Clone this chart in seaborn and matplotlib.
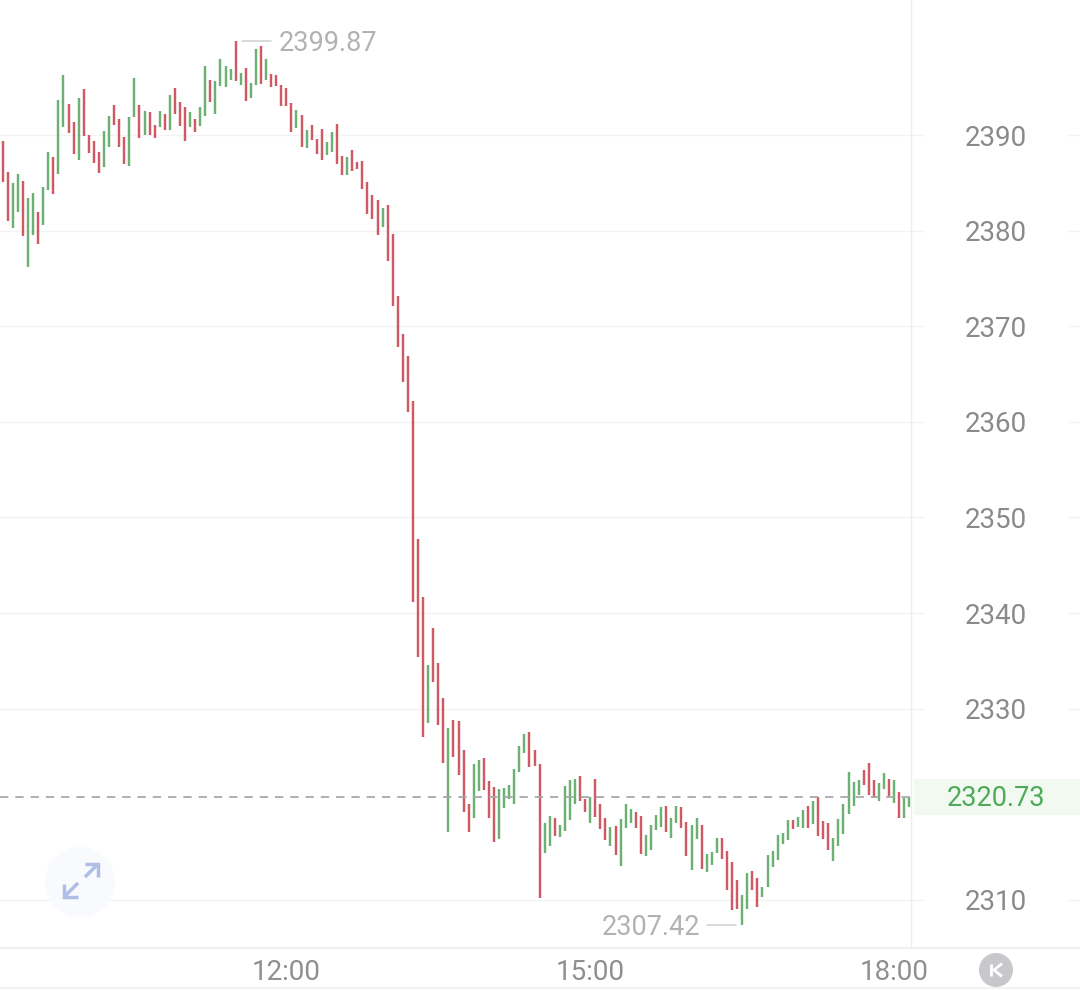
import pandas as pd
import seaborn as sns
import matplotlib.pyplot as plt
from matplotlib.patches import Circle, Rectangle

# BAR DATA, 3 MINUTE BARS
highs = [2389.41, 2386.17, 2384.95, 2385.92, 2385.19, 2383.38, 2383.90, 2381.98, 2384.56, 2388.19,
         2387.73, 2393.70, 2396.24, 2393.21, 2391.32, 2393.83, 2394.78, 2389.97, 2389.34, 2388.19,
         2390.45, 2391.95, 2393.14, 2391.67, 2389.76, 2391.85, 2395.93, 2393.14, 2392.54, 2392.41,
         2391.08, 2392.48, 2392.20, 2394.18, 2394.95, 2393.42, 2392.96, 2392.41, 2391.71, 2392.93,
         2397.18, 2395.75, 2395.68, 2397.91, 2397.22, 2396.87, 2399.87, 2396.48, 2397.04, 2395.47,
         2398.96, 2399.27, 2397.91, 2396.34, 2396.27, 2395.23, 2394.88, 2393.31, 2392.65, 2392.06,
         2390.52, 2391.05, 2389.55, 2390.59, 2389.27, 2390.35, 2391.19, 2387.84, 2387.73, 2388.40,
         2387.14, 2387.25, 2385.05, 2383.69, 2383.17, 2382.33, 2382.71, 2379.68, 2373.19, 2369.22,
         2366.89, 2362.15, 2347.78, 2341.69, 2334.58, 2338.41, 2334.82, 2331.16, 2327.96, 2328.79,
         2328.72, 2325.69, 2320.04, 2324.22, 2324.61, 2324.88, 2322.44, 2321.85, 2321.61, 2321.68,
         2322.00, 2323.73, 2326.10, 2327.33, 2327.60, 2325.69, 2324.22, 2318.02, 2318.75, 2318.61,
         2317.88, 2321.92, 2322.55, 2322.65, 2323.00, 2320.56, 2320.74, 2322.62, 2320.04, 2318.54,
         2317.60, 2317.74, 2318.51, 2320.04, 2319.48, 2319.20, 2318.75, 2316.76, 2317.81, 2318.92,
         2319.69, 2319.83, 2318.54, 2319.86, 2319.73, 2318.19, 2317.88, 2318.58, 2317.84, 2314.78,
         2315.05, 2316.52, 2316.45, 2315.16, 2313.94, 2312.12, 2310.52, 2312.79, 2313.00, 2312.33,
         2311.33, 2314.67, 2315.12, 2316.77, 2317.01, 2318.34, 2318.34, 2318.68, 2319.41, 2319.83,
         2320.35, 2320.74, 2318.23, 2318.05, 2316.45, 2318.44, 2320.04, 2323.35, 2322.31, 2322.52,
         2323.59, 2324.33, 2322.55, 2322.20, 2323.31, 2322.62, 2322.52, 2321.26, 2320.63, 2320.77]
lows = [2385.12, 2381.01, 2380.31, 2381.95, 2379.44, 2376.23, 2379.58, 2378.57, 2380.59, 2384.28,
        2383.80, 2385.89, 2390.87, 2390.24, 2388.01, 2387.39, 2389.90, 2388.12, 2387.11, 2385.99,
        2386.69, 2388.75, 2391.08, 2388.71, 2387.00, 2386.72, 2391.92, 2389.72, 2390.00, 2389.97,
        2389.65, 2390.80, 2390.49, 2390.52, 2392.16, 2390.98, 2389.34, 2390.80, 2390.28, 2390.94,
        2392.02, 2393.49, 2392.16, 2395.09, 2394.98, 2395.79, 2395.61, 2395.26, 2393.59, 2393.90,
        2395.19, 2395.30, 2395.72, 2394.98, 2395.12, 2393.00, 2393.07, 2390.35, 2390.70, 2388.71,
        2388.64, 2389.51, 2388.01, 2387.39, 2387.94, 2388.19, 2387.00, 2385.85, 2385.78, 2386.24,
        2386.41, 2384.32, 2381.77, 2381.25, 2379.51, 2380.41, 2376.86, 2372.15, 2367.83, 2364.17,
        2361.06, 2341.16, 2335.44, 2327.08, 2328.54, 2332.83, 2328.30, 2324.30, 2317.11, 2324.99,
        2323.07, 2319.17, 2317.08, 2318.54, 2321.40, 2321.54, 2318.54, 2316.10, 2316.41, 2319.62,
        2320.53, 2320.07, 2323.35, 2325.37, 2323.94, 2323.98, 2310.21, 2314.95, 2315.68, 2316.73,
        2316.55, 2317.18, 2318.40, 2320.07, 2320.39, 2319.20, 2318.09, 2318.68, 2317.39, 2316.31,
        2315.61, 2314.74, 2313.59, 2317.53, 2318.09, 2317.53, 2314.85, 2314.60, 2315.26, 2317.29,
        2317.67, 2317.08, 2316.48, 2318.02, 2317.49, 2314.60, 2313.10, 2316.41, 2313.28, 2312.93,
        2313.63, 2314.92, 2314.32, 2311.08, 2308.92, 2309.03, 2307.42, 2309.09, 2311.08, 2309.27,
        2310.31, 2311.39, 2313.42, 2314.18, 2315.86, 2316.31, 2317.42, 2317.60, 2317.56, 2317.53,
        2317.98, 2316.66, 2316.35, 2315.20, 2314.11, 2315.65, 2316.93, 2319.03, 2319.86, 2320.95,
        2322.00, 2320.95, 2320.63, 2320.35, 2321.64, 2320.91, 2320.11, 2318.58, 2318.61, 2319.69]
directions = ("RRGGRGGRGG" "RGGRRGRRRR" "GGRRRGGRGR" "RGRGRRRGRG"
              "GRGGGGRGRG" "GRGRRRRRGR" "GRRRGGRRGR" "RRRRRGRRRR"
              "RRRRGRRRGR" "RRRGGRRRGG" "GGGGRRRGGR" "GGGGRRGRRR"
              "GRGGGRRGGG" "GRGGRRGGRG" "GGRRRRGGRR" "GGGGGGRGGR"
              "GRRRGGGGGG" "RRRGGRGRGG")

# 2320 QUEDA TAPADO POR LA ETIQUETA DEL PRECIO ACTUAL
ticks_precio = [2310, 2330, 2340, 2350, 2360, 2370, 2380, 2390]
ticks_hora = [56, 116, 176]
labels_hora = ['12:00', '15:00', '18:00']
precio_max = 2399.87
precio_min = 2307.42
precio_actual = 2320.73

ROJO = '#cf5a64'
VERDE = '#6bb174'
GRIS_GRID = '#f3f3f5'

sns.set_theme(style='white')
plt.rcParams['font.family'] = ['Roboto', 'DejaVu Sans']

# DOS FILAS POR BARRA, UNA PARA EL MAXIMO Y OTRA PARA EL MINIMO
barras = pd.DataFrame({'barra': range(len(highs)), 'high': highs, 'low': lows, 'dir': list(directions)})
largo = barras.melt(id_vars=['barra', 'dir'], value_vars=['high', 'low'], value_name='precio')

fig = plt.figure(figsize=(10.8, 9.9), dpi=100)
ax = fig.add_axes([0, 1 - 947 / 990, 911 / 1080, 947 / 990])
ax.set_xlim(-0.533, 179.33)
ax.set_ylim(2305.08, 2404.12)

ax.grid(axis='y', color=GRIS_GRID, lw=1.0)
ax.set_axisbelow(True)
sns.despine(ax=ax, left=True, bottom=True, top=True, right=True)

sns.lineplot(data=largo, x='barra', y='precio', hue='dir', units='barra', estimator=None,
             palette={'R': ROJO, 'G': VERDE}, linewidth=1.75, solid_capstyle='butt',
             legend=False, ax=ax)

ax.axhline(precio_actual, color='#a6a6a6', lw=1.25, dashes=(4.8, 4.0), zorder=3)

ax.set_xlabel('')
ax.set_ylabel('')
ax.set_xticks(ticks_hora)
ax.set_xticklabels(labels_hora)
ax.set_yticks(ticks_precio)
ax.yaxis.tick_right()
ax.tick_params(axis='y', length=0, pad=39, labelsize=20, labelcolor='#8a8a8a')
ax.tick_params(axis='x', length=0, pad=8.5, labelsize=20, labelcolor='#8f8f8f')

# LA REJILLA SIGUE A LOS LADOS DE LAS ETIQUETAS DE PRECIO
trans = ax.get_yaxis_transform()
for t in ticks_precio:
    ax.plot([1, 924 / 911], [t, t], color=GRIS_GRID, lw=1.0, transform=trans, clip_on=False)
    ax.plot([1068 / 911, 1080 / 911], [t, t], color=GRIS_GRID, lw=1.0, transform=trans, clip_on=False)

# MAXIMO Y MINIMO DEL DIA
i_max = highs.index(precio_max)
i_min = lows.index(precio_min)
ax.annotate(f'{precio_max:.2f}', xy=(i_max, precio_max), xytext=(43, -3), textcoords='offset pixels',
            fontsize=19.5, color='#b2b2b2', va='center', ha='left')
ax.annotate(f'{precio_min:.2f}', xy=(i_min, precio_min), xytext=(-42, -3), textcoords='offset pixels',
            fontsize=19.5, color='#b2b2b2', va='center', ha='right')
ax.plot([i_max + 1.25, i_max + 7], [precio_max, precio_max], color='#cfcfcf', lw=1.1)
ax.plot([i_min - 7, i_min - 1.2], [precio_min, precio_min], color='#cfcfcf', lw=1.1)

# CAPA EN PIXELES PARA BOTONES, LINEAS DE MARCO Y ETIQUETA DEL PRECIO ACTUAL
capa = fig.add_axes([0, 0, 1, 1], facecolor='none')
capa.set_xlim(0, 1080)
capa.set_ylim(990, 0)
capa.axis('off')

capa.plot([911, 911], [0, 947], color='#eeeeef', lw=1.0)
capa.plot([0, 1080], [947.5, 947.5], color='#eeeeef', lw=1.2)
capa.plot([0, 1080], [987.5, 987.5], color='#f0f0f0', lw=1.2)

capa.add_patch(Rectangle((914, 779), 166, 36, color='#f1f9f1', lw=0))
capa.text(996, 799, f'{precio_actual:.2f}', fontsize=19.5, color='#4eaa58', ha='center', va='center')

capa.add_patch(Circle((80, 882), 35, color='#f9fafd', lw=0))
azul = '#b0bee6'
for xs, ys in [([85, 98], [877, 864]), ([85, 98, 98], [864, 864, 877]),
               ([78, 64], [883, 897]), ([64, 64, 78], [884, 897, 897])]:
    capa.plot(xs, ys, color=azul, lw=2.5, solid_capstyle='butt', solid_joinstyle='miter')

capa.add_patch(Circle((996, 970), 17, color='#c8c8cc', lw=0))
capa.plot([990.5, 990.5], [964, 976], color='white', lw=2.0, solid_capstyle='butt')
capa.plot([1002, 994, 1002], [963.5, 970, 976.5], color='white', lw=2.0, solid_capstyle='butt')

fig.savefig('out.png', dpi=100)
